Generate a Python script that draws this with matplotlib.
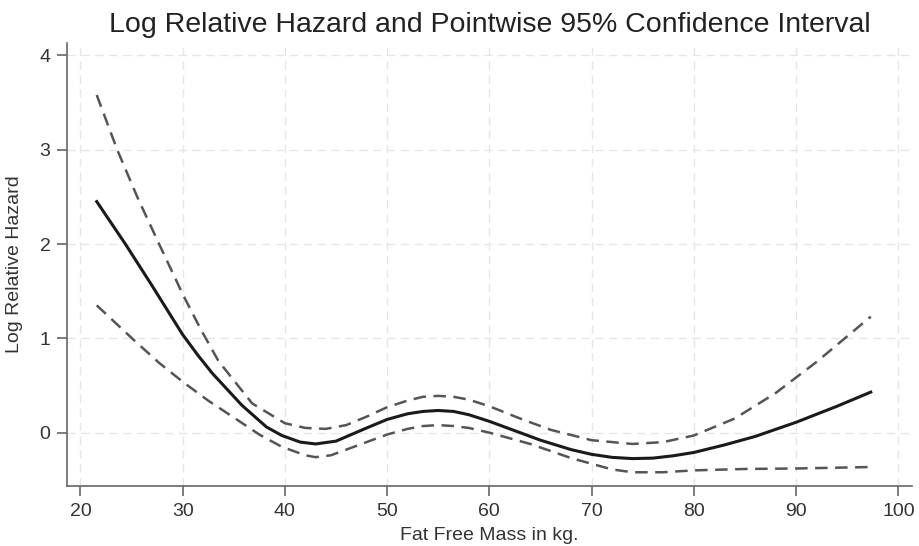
import matplotlib
matplotlib.use('Agg')
import matplotlib.pyplot as plt

plt.rcParams['font.family'] = ['Liberation Sans', 'DejaVu Sans']

# Fat free mass (kg) and log relative hazard
mass = [21.6, 24.4, 27, 28.5, 30, 31.5, 32.9, 35.8, 38.2, 39.7, 41.5, 43,
        45, 48, 50, 52, 53.5, 55, 56.5, 58, 60, 62, 65, 68, 70, 72, 74, 76,
        78, 80, 83, 86, 90, 94, 97.3]
hazard = [2.45, 2.00, 1.56, 1.30, 1.04, 0.82, 0.63, 0.29, 0.06, -0.03,
          -0.10, -0.12, -0.09, 0.05, 0.14, 0.20, 0.225, 0.235, 0.225, 0.19,
          0.12, 0.04, -0.08, -0.18, -0.23, -0.262, -0.275, -0.27, -0.245,
          -0.21, -0.13, -0.04, 0.11, 0.28, 0.43]

upper_x = [21.6, 23.6, 25.6, 27.7, 30, 31.8, 33.5, 36.8, 40, 42, 44, 46, 48,
           50, 52, 53.5, 55, 56.5, 58, 60, 63, 66, 70, 74, 77, 80, 84, 88,
           92, 97.3]
upper = [3.58, 3.00, 2.49, 2.00, 1.47, 1.09, 0.76, 0.31, 0.10, 0.05, 0.04,
         0.08, 0.17, 0.27, 0.34, 0.38, 0.39, 0.38, 0.35, 0.28, 0.15, 0.03,
         -0.08, -0.12, -0.10, -0.03, 0.15, 0.42, 0.75, 1.23]

lower_x = [21.6, 25.4, 27.7, 30, 32.5, 35.15, 37.5, 39.7, 42, 43, 44.5, 46,
           48, 50, 52, 53.5, 55, 56.5, 58, 60, 64, 68, 72, 74, 77, 80, 85,
           90, 97]
lower = [1.35, 0.965, 0.74, 0.54, 0.34, 0.15, -0.02, -0.15, -0.24, -0.26,
         -0.24, -0.18, -0.10, -0.02, 0.04, 0.07, 0.08, 0.07, 0.05, 0.0,
         -0.12, -0.27, -0.39, -0.42, -0.42, -0.40, -0.385, -0.38, -0.365]

xticks = [20, 30, 40, 50, 60, 70, 80, 90, 100]
yticks = [0, 1, 2, 3, 4]

fig = plt.figure(figsize=(9.19, 5.46), dpi=100)
ax = fig.add_axes([0.073, 0.110, 0.919, 0.811])

ax.plot(upper_x, upper, color='#555555', lw=1.8, ls=(0, (5, 3)))
ax.plot(lower_x, lower, color='#555555', lw=1.8, ls=(0, (5, 3)))
ax.plot(mass, hazard, color='#1a1a1a', lw=2.2)

ax.set_xlim(18.7, 101.3)
ax.set_ylim(-0.565, 4.13)
ax.set_xticks(xticks)
ax.set_yticks(yticks)
ax.grid(True, color='#e6e6e6', ls=(0, (6, 4)), lw=1)
ax.set_axisbelow(True)

for side in ['top', 'right']:
    ax.spines[side].set_visible(False)
for side in ['left', 'bottom']:
    ax.spines[side].set_color('#666666')
    ax.spines[side].set_linewidth(1.2)
ax.tick_params(length=7, width=1.2, color='#666666', labelsize=14,
               labelcolor='#333333', pad=5)

ax.set_title('Log Relative Hazard and Pointwise 95% Confidence Interval',
             fontsize=20.5, color='#222222', pad=8)
ax.set_xlabel('Fat Free Mass in kg.', fontsize=14, color='#333333', labelpad=5)
ax.set_ylabel('Log Relative Hazard', fontsize=14, color='#333333', labelpad=12)

fig.savefig('out.png', dpi=100)
